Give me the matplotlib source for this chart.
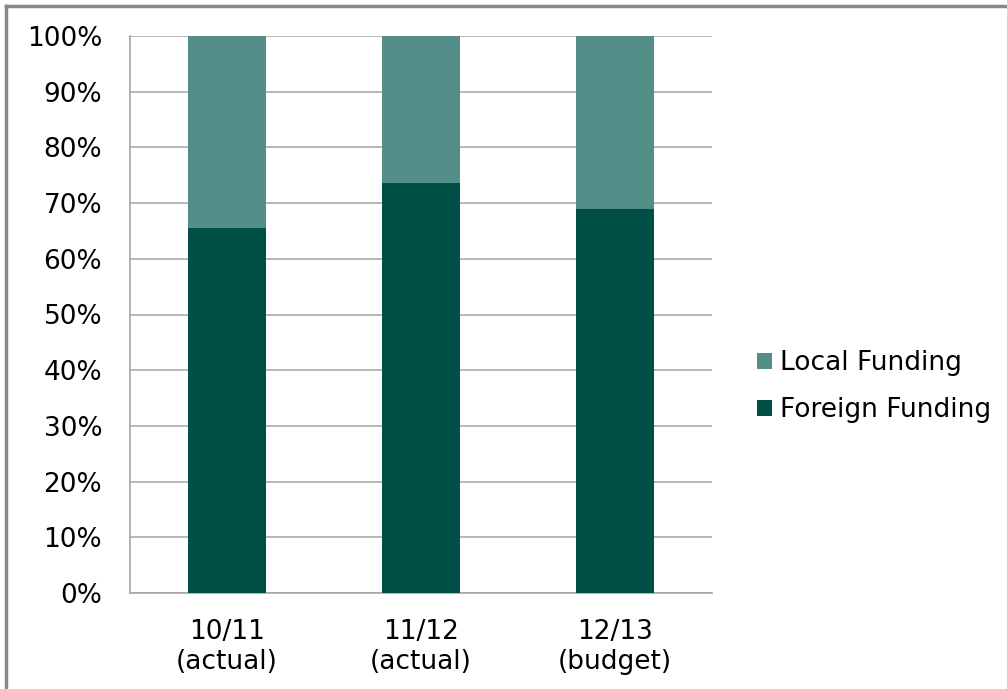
import matplotlib
matplotlib.use('Agg')
from matplotlib import pyplot as plt
from matplotlib.lines import Line2D

# data
categories = ['10/11\n(actual)', '11/12\n(actual)', '12/13\n(budget)']
foreign = [65.5, 73.6, 68.9]
local = [100 - v for v in foreign]

foreign_color = '#004F47'
local_color = '#538F88'
grid_color = '#A6A6A6'

plt.rcParams['font.family'] = ['DejaVu Sans']

fig = plt.figure(figsize=(10.07, 6.89), dpi=100)
ax = fig.add_axes([130 / 1007, 1 - 593 / 689, 582 / 1007, 557 / 689])

x = range(len(categories))
ax.bar(x, foreign, width=0.4, color=foreign_color, label='Foreign Funding', zorder=3)
ax.bar(x, local, width=0.4, bottom=foreign, color=local_color, label='Local Funding', zorder=3)

ax.set_xlim(-0.5, 2.5)
ax.set_ylim(0, 100)
ax.set_yticks(range(0, 101, 10))
ax.set_yticklabels([f'{v}%' for v in range(0, 101, 10)])
ax.set_xticks(list(x))
ax.set_xticklabels(categories, linespacing=1.2)
ax.tick_params(axis='both', length=0, labelsize=19, colors='#000000')
ax.tick_params(axis='y', pad=20)
ax.tick_params(axis='x', pad=19)

ax.grid(axis='y', color=grid_color, linewidth=1.1, zorder=0)
for s in ['top', 'right']:
    ax.spines[s].set_visible(False)
for s in ['left', 'bottom']:
    ax.spines[s].set_color(grid_color)
    ax.spines[s].set_linewidth(1.2)

# legend, Local on top
handles, labels = ax.get_legend_handles_labels()
ax.legend(handles[::-1], labels[::-1], loc='center left', bbox_to_anchor=(1.037, 0.37),
          frameon=False, fontsize=19, handlelength=0.55, handleheight=0.55,
          handletextpad=0.3, labelspacing=0.8)

# outer border (only top and left visible in the crop)
fig.add_artist(Line2D([6 / 1007, 6 / 1007], [0, 1 - 6 / 689], transform=fig.transFigure,
                      color='#888888', linewidth=2.5))
fig.add_artist(Line2D([6 / 1007, 1], [1 - 6 / 689, 1 - 6 / 689], transform=fig.transFigure,
                      color='#888888', linewidth=2.5))

fig.savefig('out.png', dpi=100)
